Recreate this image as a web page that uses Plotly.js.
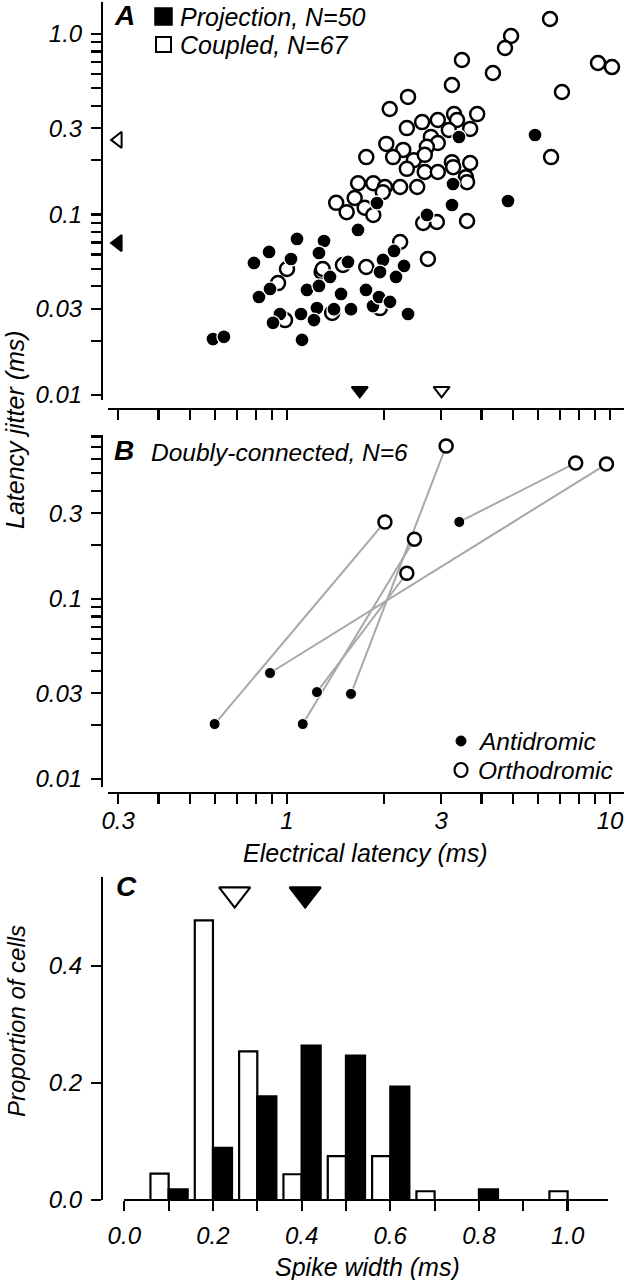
<!DOCTYPE html>
<html>
<head>
<meta charset="utf-8">
<script src="https://cdn.plot.ly/plotly-3.0.1.min.js"></script>
<style>
  html, body { margin: 0; padding: 0; background: #fff; }
  #chart { width: 629px; height: 1280px; }
</style>
</head>
<body>
<div id="chart"></div>
<script>
// ---- panel A: latency jitter vs electrical latency ----
var projLatency = [0.590, 0.638, 0.790, 0.880, 1.029, 1.074, 1.302, 1.256, 1.659, 0.819,
  0.886, 0.951, 0.905, 1.105, 1.113, 1.153, 1.256, 1.359, 1.470, 1.545,
  1.238, 1.212, 1.398, 1.578, 1.756, 1.846, 1.927, 1.983, 1.941, 1.899,
  3.265, 3.242, 2.713, 4.833, 2.145, 2.303, 2.175, 2.084, 2.370, 3.408, 5.860];
var projJitter = [0.0204, 0.0210, 0.0539, 0.0620, 0.0567, 0.0732, 0.0713, 0.0612, 0.0821, 0.0349,
  0.0387, 0.0281, 0.0251, 0.0281, 0.0202, 0.0382, 0.0402, 0.0451, 0.0363, 0.0546,
  0.0303, 0.0260, 0.0299, 0.0299, 0.0382, 0.0311, 0.0349, 0.0560, 0.0480, 0.1158,
  0.1476, 0.1129, 0.0994, 0.1188, 0.0628, 0.0519, 0.0451, 0.0328, 0.0281, 0.2687, 0.2757];

var coupledLatency = [6.52, 4.94, 4.73, 4.34, 9.18, 10.14, 7.10, 3.48, 3.24, 2.37,
  2.08, 3.29, 3.88, 2.93, 2.62, 2.35, 3.36, 3.17, 3.69, 2.79,
  2.03, 2.29, 2.93, 2.71, 1.76, 2.13, 2.47, 2.67, 2.35, 2.67,
  2.93, 3.24, 3.69, 3.27, 3.58, 1.66, 1.85, 2.01, 2.24, 2.53,
  6.57, 1.62, 1.42, 1.53, 1.74, 1.85, 1.98, 3.61, 2.91, 2.64,
  2.73, 2.24, 1.76, 1.49, 1.28, 1.00, 0.938, 1.29, 1.94, 1.38, 0.986, 3.61];
var coupledJitter = [1.211, 0.975, 0.836, 0.608, 0.691, 0.656, 0.477, 0.718, 0.522, 0.448,
  0.384, 0.360, 0.360, 0.334, 0.325, 0.301, 0.334, 0.294, 0.298, 0.269,
  0.246, 0.228, 0.249, 0.237, 0.208, 0.208, 0.200, 0.214, 0.179, 0.172,
  0.172, 0.195, 0.193, 0.183, 0.161, 0.149, 0.149, 0.142, 0.142, 0.142,
  0.208, 0.1234, 0.116, 0.103, 0.109, 0.0994, 0.133, 0.0920, 0.0909, 0.0897,
  0.0567, 0.0704, 0.0512, 0.0525, 0.0480, 0.0499, 0.0417, 0.0499, 0.0303, 0.0285, 0.0260, 0.151];

// medians shown as triangles on the margins
var projMedianLatency = 1.68, coupledMedianLatency = 3.01;
var projMedianJitter = 0.0695, coupledMedianJitter = 0.259;

// ---- panel B: doubly-connected pairs ----
var antiLatency  = [0.597, 0.886, 1.238, 1.119, 1.578, 3.415];
var antiJitter   = [0.0202, 0.0388, 0.0304, 0.0202, 0.0297, 0.268];
var orthoLatency = [2.01, 9.75, 2.35, 2.48, 3.11, 7.83];
var orthoJitter  = [0.268, 0.562, 0.139, 0.215, 0.708, 0.570];

// ---- panel C: spike width histogram ----
var widthBins = [0.1, 0.2, 0.3, 0.4, 0.5, 0.6, 0.7, 0.8, 0.9, 1.0];
var coupledProp = [0.045, 0.478, 0.254, 0.044, 0.075, 0.075, 0.015, 0, 0, 0.015];
var projProp    = [0.018, 0.089, 0.177, 0.264, 0.247, 0.194, 0, 0.018, 0, 0];
var coupledMedianWidth = 0.249, projMedianWidth = 0.408;

// ---- tick labels ----
var jitterTicks = [0.01,0.02,0.03,0.04,0.05,0.06,0.07,0.08,0.09,0.1,0.2,0.3,0.4,0.5,0.6,0.7,0.8,0.9,1.0];
var jitterText  = ['0.01','','0.03','','','','','','','0.1','','0.3','','','','','','','1.0'];
var latencyTicks = [0.3,0.4,0.5,0.6,0.7,0.8,0.9,1,2,3,4,5,6,7,8,9,10];
var latencyText  = ['0.3','','','','','','','1','','3','','','','','','','10'];
var widthTicks = [0,0.1,0.2,0.3,0.4,0.5,0.6,0.7,0.8,0.9,1.0];
var widthText  = ['0.0','','0.2','','0.4','','0.6','','0.8','','1.0'];
var propTicks = [0, 0.2, 0.4];
var propText  = ['0.0', '0.2', '0.4'];

var W = 629, H = 1280;
var FONT = 'Liberation Sans, Arial, Helvetica, sans-serif';
function px(p) { return p / W; }
function py(p) { return 1 - p / H; }

var tickFont = {family: FONT, size: 24, color: '#000', style: 'italic'};
var axisBase = {
  showgrid: false, zeroline: false, showline: true, linecolor: '#000', linewidth: 2.4,
  ticks: 'outside', ticklen: 10, tickwidth: 2.2, tickcolor: '#000',
  tickfont: tickFont, tickmode: 'array', automargin: false, fixedrange: true
};
function ax(extra) { return Object.assign({}, axisBase, extra); }

var pairX = [], pairY = [];
for (var i = 0; i < antiLatency.length; i++) {
  pairX.push(antiLatency[i], orthoLatency[i], null);
  pairY.push(antiJitter[i], orthoJitter[i], null);
}

var data = [
  // A
  {x: coupledLatency, y: coupledJitter, xaxis: 'x', yaxis: 'y', type: 'scatter', mode: 'markers', cliponaxis: false,
   marker: {symbol: 'circle', size: 14, color: '#fff', line: {color: '#000', width: 2.5}}},
  {x: projLatency, y: projJitter, xaxis: 'x', yaxis: 'y', type: 'scatter', mode: 'markers', cliponaxis: false,
   marker: {symbol: 'circle', size: 14, color: '#000', line: {color: '#fff', width: 1.3}}},
  {x: [0.3, 0.3], y: [coupledMedianJitter, projMedianJitter], xaxis: 'x', yaxis: 'y', type: 'scatter', mode: 'markers', cliponaxis: false,
   marker: {symbol: 'triangle-left', size: 14, color: ['#fff', '#000'], line: {color: '#000', width: 2}}},
  {x: [coupledMedianLatency, projMedianLatency], y: [0.0106, 0.0106], xaxis: 'x', yaxis: 'y', type: 'scatter', mode: 'markers', cliponaxis: false,
   marker: {symbol: 'triangle-down', size: 14, color: ['#fff', '#000'], line: {color: '#000', width: 2}}},
  // B
  {x: pairX, y: pairY, xaxis: 'x2', yaxis: 'y2', type: 'scatter', mode: 'lines', connectgaps: false, cliponaxis: false,
   line: {color: '#a8a8a8', width: 2}},
  {x: orthoLatency, y: orthoJitter, xaxis: 'x2', yaxis: 'y2', type: 'scatter', mode: 'markers', cliponaxis: false,
   marker: {symbol: 'circle', size: 13, color: '#fff', line: {color: '#000', width: 2.5}}},
  {x: antiLatency, y: antiJitter, xaxis: 'x2', yaxis: 'y2', type: 'scatter', mode: 'markers', cliponaxis: false,
   marker: {symbol: 'circle', size: 11, color: '#000', line: {color: '#fff', width: 1}}},
  // C
  {x: widthBins, y: coupledProp, xaxis: 'x3', yaxis: 'y3', type: 'bar', width: 0.041, offset: -0.041,
   marker: {color: '#fff', line: {color: '#000', width: 2.2}}},
  {x: widthBins, y: projProp, xaxis: 'x3', yaxis: 'y3', type: 'bar', width: 0.043, offset: 0,
   marker: {color: '#000', line: {color: '#000', width: 2.2}}},
  {x: [coupledMedianWidth, projMedianWidth], y: [0.523, 0.523], xaxis: 'x3', yaxis: 'y3', type: 'scatter', mode: 'markers', cliponaxis: false,
   marker: {symbol: 'triangle-down', size: 27, color: ['#fff', '#000'], line: {color: '#000', width: 2.2}}}
];

var xLatRange = [(108 - 287) / 323, (624 - 287) / 323];

var layout = {
  width: W, height: H,
  margin: {l: 0, r: 0, t: 0, b: 0},
  paper_bgcolor: '#fff', plot_bgcolor: 'rgba(0,0,0,0)',
  showlegend: false, barmode: 'overlay',
  font: {family: FONT, color: '#000'},
  xaxis: ax({type: 'log', domain: [px(108), px(624)], range: xLatRange, anchor: 'free', position: py(409),
    tickvals: latencyTicks, ticktext: latencyTicks.map(function () { return ''; })}),
  yaxis: ax({type: 'log', domain: [py(400), py(2)], range: [-(400 - 34) / 180.5, (34 - 2) / 180.5],
    anchor: 'free', position: px(102), tickvals: jitterTicks, ticktext: jitterText, ticklabelstandoff: 4}),
  xaxis2: ax({type: 'log', domain: [px(108), px(624)], range: xLatRange, anchor: 'free', position: py(793),
    tickvals: latencyTicks, ticktext: latencyText, ticklabelstandoff: -4}),
  yaxis2: ax({type: 'log', domain: [py(787), py(435)], range: [-1 - (787 - 599) / 180, -1 + (599 - 435) / 180],
    anchor: 'free', position: px(102), tickvals: jitterTicks, ticktext: jitterText, ticklabelstandoff: 4}),
  xaxis3: ax({domain: [px(124.3), px(608)], range: [0, (608 - 124.3) / 443.3], anchor: 'free', position: py(1200),
    tickvals: widthTicks, ticktext: widthText, ticklabelstandoff: 4}),
  yaxis3: ax({domain: [py(1200), py(877)], range: [0, (1200 - 877) / 585], anchor: 'free', position: px(102),
    tickvals: propTicks, ticktext: propText, ticklabelstandoff: 4}),
  shapes: [
    {type: 'rect', xref: 'paper', yref: 'paper', x0: px(155), x1: px(172), y0: py(25), y1: py(8),
     fillcolor: '#000', line: {color: '#000', width: 1.5}},
    {type: 'rect', xref: 'paper', yref: 'paper', x0: px(156), x1: px(171), y0: py(52), y1: py(37),
     fillcolor: '#fff', line: {color: '#000', width: 2}},
    {type: 'circle', xref: 'paper', yref: 'paper', x0: px(456), x1: px(466), y0: py(746), y1: py(736),
     fillcolor: '#000', line: {color: '#000', width: 1}},
    {type: 'circle', xref: 'paper', yref: 'paper', x0: px(454.5), x1: px(467.5), y0: py(777), y1: py(763),
     fillcolor: '#fff', line: {color: '#000', width: 2.2}}
  ],
  annotations: [
    {text: '<b><i>A</i></b>', x: px(124), y: py(16), font: {size: 28}},
    {text: '<i>Projection, N=50</i>', x: px(178), y: py(17), xanchor: 'left', font: {size: 25}},
    {text: '<i>Coupled, N=67</i>', x: px(178), y: py(45), xanchor: 'left', font: {size: 25}},
    {text: '<b><i>B</i></b>', x: px(124), y: py(450), font: {size: 28}},
    {text: '<i>Doubly-connected, N=6</i>', x: px(149), y: py(452), xanchor: 'left', font: {size: 24.5}},
    {text: '<i>Antidromic</i>', x: px(476), y: py(741), xanchor: 'left', font: {size: 24.5}},
    {text: '<i>Orthodromic</i>', x: px(476), y: py(770), xanchor: 'left', font: {size: 24.5}},
    {text: '<b><i>C</i></b>', x: px(126), y: py(886), font: {size: 28}},
    {text: '<i>Latency jitter (ms)</i>', x: px(15), y: py(430), textangle: -90, font: {size: 25}},
    {text: '<i>Electrical latency (ms)</i>', x: px(365), y: py(853), font: {size: 25}},
    {text: '<i>Proportion of cells</i>', x: px(16), y: py(1021), textangle: -90, font: {size: 24}},
    {text: '<i>Spike width (ms)</i>', x: px(367), y: py(1267), font: {size: 25}}
  ].map(function (a) {
    return Object.assign({xref: 'paper', yref: 'paper', showarrow: false, xanchor: 'center', yanchor: 'middle'}, a,
      {font: Object.assign({family: FONT, color: '#000'}, a.font)});
  })
};

Plotly.newPlot('chart', data, layout, {staticPlot: true, displayModeBar: false});
</script>
</body>
</html>
